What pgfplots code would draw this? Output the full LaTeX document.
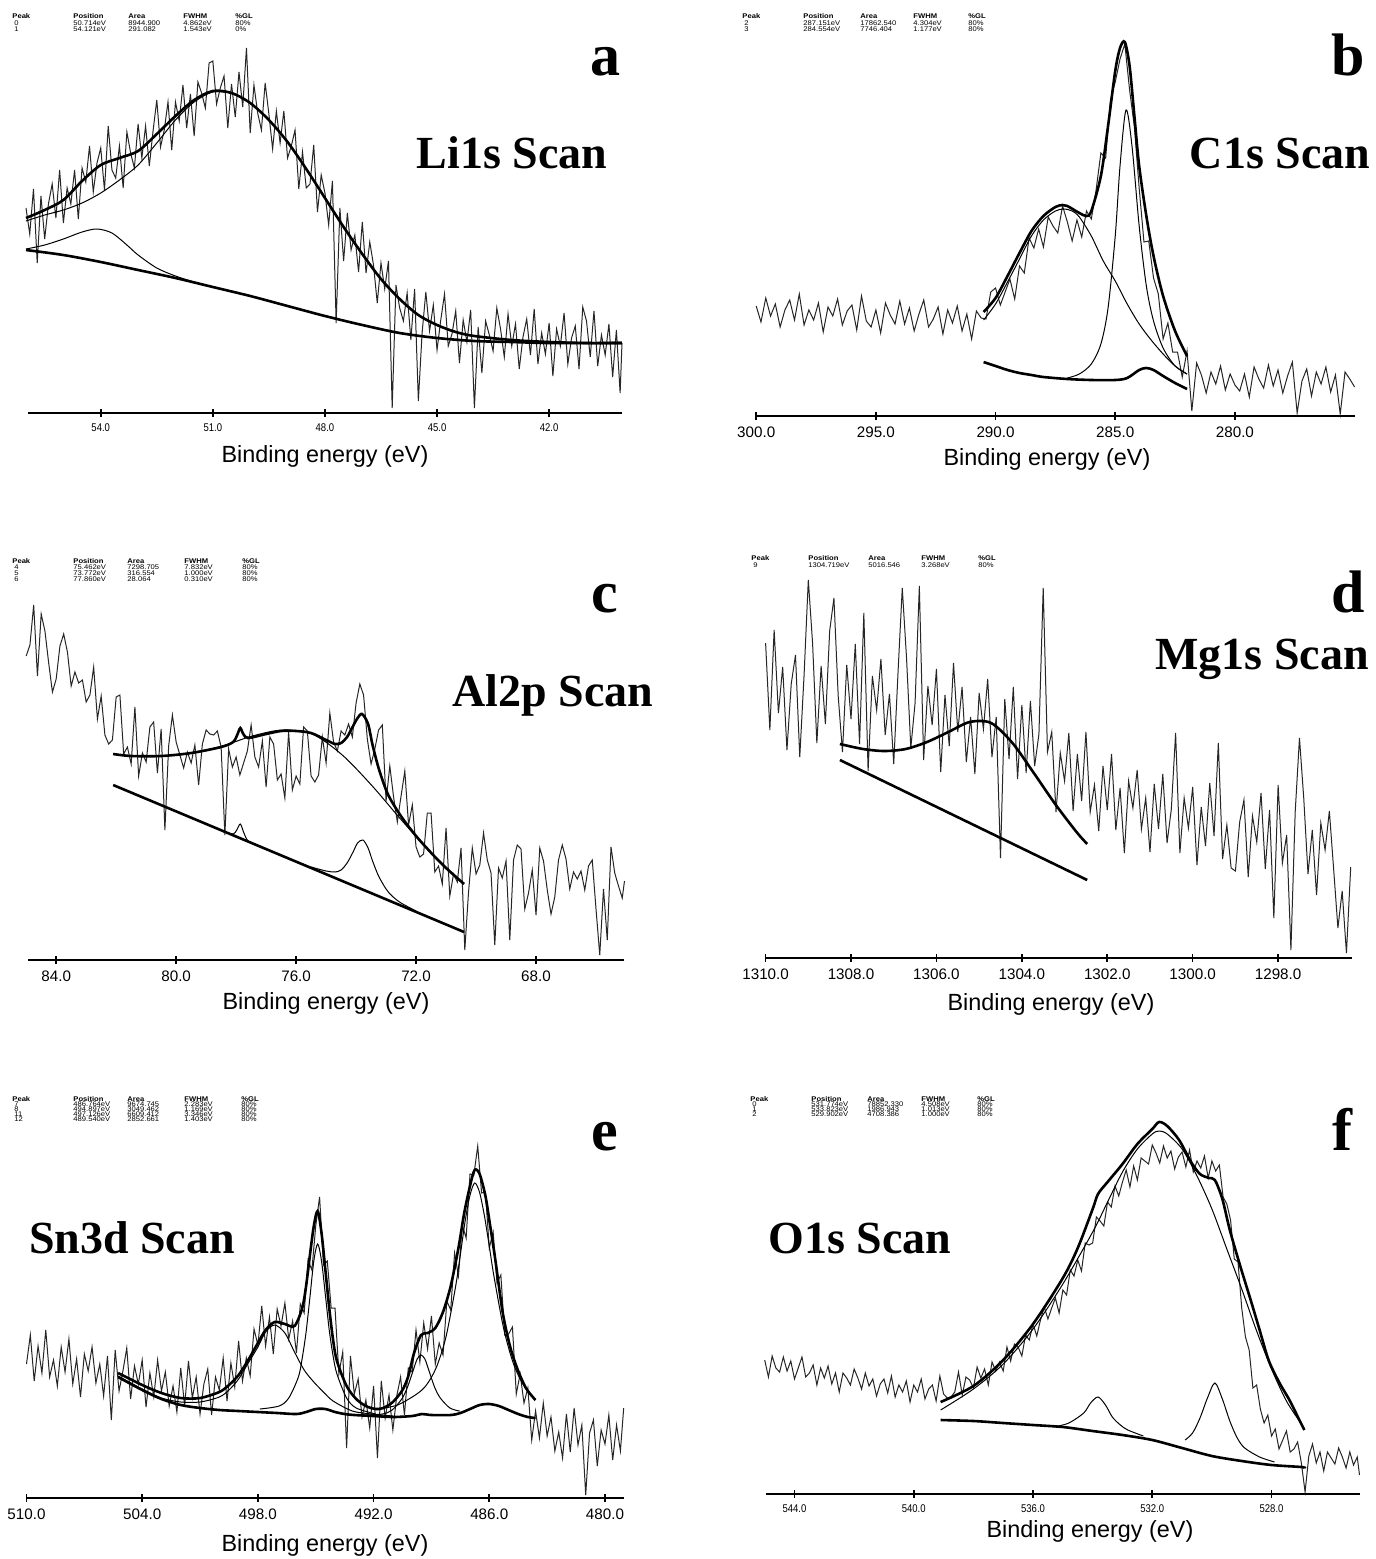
\documentclass[border=0pt]{standalone}
\usepackage{fontspec}
\setmainfont{Liberation Serif}
\newfontfamily\arial{Liberation Sans}
\usepackage{pgfplots}
\pgfplotsset{compat=1.18}
\pgfplotsset{
  xps/.style={
    scale only axis, clip=false, anchor=south west,
    axis x line*=bottom, axis y line=none,
    ymin=0, ymax=400, height=200pt, x dir=reverse,
    ytick=\empty,
    axis line style={line width=0.8pt, black},
    xtick style={line width=0.8pt, black},
    major tick length=4pt, tick align=center,
    xticklabel style={font=\arial\fontsize{7.6}{8}\selectfont, black},
  },
  smallticks/.style={xticklabel style={font=\arial\fontsize{5.6}{6}\selectfont, xscale=0.85}},
  data/.style={line width=0.5pt, black!85},
  fitthick/.style={line width=1.3pt, black, smooth},
  fitthin/.style={line width=0.5pt, black, smooth},
}
\tikzset{
  hd/.style={font=\arial\bfseries\fontsize{3.4}{4}\selectfont, anchor=base west, inner sep=0pt, xscale=1.12},
  hv/.style={font=\arial\fontsize{3.4}{4}\selectfont, anchor=base west, inner sep=0pt, xscale=1.12},
  big/.style={font=\bfseries\fontsize{30}{30}\selectfont, anchor=base, inner sep=0pt},
  scan/.style={font=\bfseries\fontsize{23}{23}\selectfont, anchor=base, inner sep=0pt},
  blab/.style={font=\arial\fontsize{11.7}{13}\selectfont, anchor=center, inner sep=0pt},
}
\newcommand{\phead}[1]{%
  \node[hd] at (\cA,#1) {Peak};
  \node[hd] at (\cB,#1) {Position};
  \node[hd] at (\cC,#1) {Area};
  \node[hd] at (\cD,#1) {FWHM};
  \node[hd] at (\cE,#1) {\%GL};}
\newcommand{\prow}[6]{%
  \node[hv] at (\cA+2,#1) {#2};
  \node[hv] at (\cB,#1) {#3};
  \node[hv] at (\cC,#1) {#4};
  \node[hv] at (\cD,#1) {#5};
  \node[hv] at (\cE,#1) {#6};}
\begin{document}
\begin{tikzpicture}
\useasboundingbox (0,0) rectangle (688pt,-779.5pt);
\fill[white] (0,0) rectangle (688pt,-779.5pt);

% ---------------- a : Li1s ----------------
\begin{axis}[xps, smallticks, at={(13.85pt,-206.5pt)}, width=297.15pt,
  xmin=40.05, xmax=55.955, xtick={54,51,48,45,42}, xticklabels={54.0,51.0,48.0,45.0,42.0}]
\addplot[data] coordinates {
(56.0,205)(55.9,179)(55.8,224)(55.7,150)(55.6,217)(55.5,174)(55.4,209)(55.3,229)(55.2,195)(55.1,243)
(55.0,190)(54.9,225)(54.8,209)(54.7,243)(54.6,194)(54.5,245)(54.4,231)(54.3,267)(54.2,221)(54.1,250)
(54.0,265)(53.9,223)(53.8,287)(53.7,243)(53.6,235)(53.5,267)(53.4,225)(53.3,281)(53.2,260)(53.1,245)
(53.0,289)(52.9,255)(52.8,287)(52.7,247)(52.6,282)(52.5,313)(52.4,266)(52.3,283)(52.2,311)(52.1,263)
(52.0,311)(51.9,292)(51.8,328)(51.7,285)(51.6,319)(51.5,277)(51.4,331)(51.3,320)(51.2,305)(51.1,350)
(51.0,352)(50.9,309)(50.8,325)(50.7,337)(50.6,285)(50.5,329)(50.4,296)(50.3,341)(50.2,306)(50.1,365)
(50.0,280)(49.9,328)(49.8,300)(49.7,283)(49.6,330)(49.5,299)(49.4,264)(49.3,302)(49.2,270)(49.1,302)
(49.0,255)(48.9,267)(48.8,283)(48.7,224)(48.6,261)(48.5,225)(48.4,229)(48.3,268)(48.2,201)(48.1,238)
(48.0,220)(47.9,188)(47.8,232)(47.7,90)(47.6,205)(47.5,152)(47.4,200)(47.3,163)(47.2,178)(47.1,141)
(47.0,191)(46.9,140)(46.8,171)(46.7,148)(46.6,110)(46.5,150)(46.4,124)(46.3,152)(46.2,5)(46.1,128)
(46.0,105)(45.9,92)(45.8,120)(45.7,73)(45.6,124)(45.5,12)(45.4,80)(45.3,121)(45.2,82)(45.1,108)
(45.0,63)(44.9,93)(44.8,119)(44.7,67)(44.6,79)(44.5,102)(44.4,50)(44.3,93)(44.2,71)(44.1,103)
(44.0,5)(43.9,86)(43.8,40)(43.7,92)(43.6,78)(43.5,62)(43.4,105)(43.3,84)(43.2,56)(43.1,99)
(43.0,67)(42.9,89)(42.8,44)(42.7,76)(42.6,94)(42.5,58)(42.4,104)(42.3,49)(42.2,80)(42.1,59)
(42.0,90)(41.9,37)(41.8,84)(41.7,67)(41.6,100)(41.5,49)(41.4,75)(41.3,87)(41.2,44)(41.1,106)
(41.0,92)(40.9,56)(40.8,102)(40.7,47)(40.6,78)(40.5,58)(40.4,89)(40.3,36)(40.2,83)(40.1,20)(40.05,70)};
\addplot[fitthin] coordinates {(56,192)(55.5,198)(55,203)(54.5,210)(54,220)(53.5,233)(53,248)(52.5,270)(52,293)(51.5,311)(51,321)(50.5,320)};
\addplot[fitthin] coordinates {(56,164)(55.5,168)(55,174)(54.5,181)(54.1,184)(53.7,180)(53.3,168)(53,158)(52.5,145)(52,137)(51.5,131)(51,126)};
\addplot[fitthick] coordinates {(56,195)(55.5,203)(55,213)(54.5,232)(54,248)(53.5,255)(53,262)(52.5,279)(52,297)(51.5,313)(51,322)(50.5,320)(50,310)(49.5,293)(49,271)(48.5,244)(48,215)(47.5,186)(47,159)(46.5,134)(46,114)(45.5,98)(45,88)(44.5,81)(44,77)(43,73)(42,71)(41,70)(40.05,70)};
\addplot[fitthick] coordinates {(56,163)(55,158)(54,151)(53,143)(52,135)(51,126)(50,117)(49,107)(48,97)(47,88)(46,80)(45,75)(44,72)(43,71)(42,70)(40.05,70)};
\end{axis}

% ---------------- b : C1s ----------------
\begin{axis}[xps, at={(378.1pt,-208pt)}, width=299.2pt,
  xmin=275, xmax=300, xtick={300,295,290,285,280}, xticklabels={300.0,295.0,290.0,285.0,280.0}]
\addplot[data] coordinates {
(300.0,110)(299.8,94)(299.6,118)(299.4,100)(299.2,112)(299.0,89)(298.8,106)(298.6,116)(298.4,96)(298.2,122)
(298.0,91)(297.8,106)(297.6,96)(297.4,113)(297.2,84)(297.0,109)(296.8,100)(296.6,117)(296.4,91)(296.2,105)
(296.0,111)(295.8,86)(295.6,120)(295.4,95)(295.2,89)(295.0,106)(294.8,83)(294.6,113)(294.4,101)(294.2,92)
(294.0,115)(293.8,92)(293.6,108)(293.4,85)(293.2,102)(293.0,116)(292.8,89)(292.6,97)(292.4,109)(292.2,82)
(292.0,106)(291.8,93)(291.6,110)(291.4,85)(291.2,102)(291.0,77)(290.8,105)(290.6,98)(290.4,97)(290.2,124)
(290.0,128)(289.8,111)(289.6,124)(289.4,137)(289.2,117)(289.0,150)(288.8,143)(288.6,178)(288.4,168)(288.2,187)
(288.0,169)(287.8,199)(287.6,190)(287.4,183)(287.2,210)(287.0,194)(286.8,175)(286.6,196)(286.4,179)(286.2,205)
(286.0,197)(285.8,226)(285.6,263)(285.4,258)(285.2,316)(285.0,334)(284.8,357)(284.6,372)(284.4,326)(284.2,289)
(284.0,228)(283.8,174)(283.6,175)(283.4,138)(283.2,122)(283.0,77)(282.8,93)(282.6,64)(282.4,64)(282.2,39)
(282.0,65)(281.8,5)(281.6,53)(281.4,41)(281.2,23)(281.0,44)(280.8,32)(280.6,50)(280.4,26)(280.2,42)
(280.0,31)(279.8,25)(279.6,42)(279.4,19)(279.2,49)(279.0,37)(278.8,28)(278.6,51)(278.4,30)(278.2,46)
(278.0,23)(277.8,40)(277.6,54)(277.4,3)(277.2,35)(277.0,47)(276.8,20)(276.6,44)(276.4,32)(276.2,49)
(276.0,24)(275.8,41)(275.6,2)(275.4,44)(275.2,37)(275.0,29)};
\addplot[fitthin] coordinates {(290.5,96)(290,112)(289.5,134)(289,157)(288.5,180)(288,196)(287.5,205)(287.15,207)(286.8,205)(286.5,199)(286,180)(285.5,155)(285,135)(284.5,112)(284,92)(283.5,76)(283,62)(282.5,50)(282,42)};
\addplot[fitthin] coordinates {(287,38)(286.5,42)(286,52)(285.6,72)(285.3,108)(285,180)(284.8,250)(284.55,306)(284.3,270)(284,190)(283.7,130)(283.4,95)(283,68)(282.5,50)(282,42)};
\addplot[fitthick] coordinates {(290.5,104)(290,118)(289.5,140)(289,163)(288.5,185)(288,200)(287.5,209)(287.2,211)(287,210)(286.5,203)(286.2,200)(286,205)(285.6,240)(285.3,290)(285,345)(284.8,368)(284.6,374)(284.4,350)(284.2,300)(284,250)(283.7,200)(283.4,160)(283,120)(282.5,85)(282,60)};
\addplot[fitthick] coordinates {(290.5,54)(290,50)(289.5,46)(289,43)(288.5,41)(288,39)(287,37)(286,36)(285,36)(284.5,38)(284,46)(283.7,48)(283.4,46)(283,40)(282.5,33)(282,27)};
\end{axis}

% ---------------- c : Al2p ----------------
\begin{axis}[xps, at={(13.85pt,-480pt)}, width=298.4pt,
  xmin=65.05, xmax=84.95, xtick={84,80,76,72,68}, xticklabels={84.0,80.0,76.0,72.0,68.0}]
\addplot[data] coordinates {
(85.0,304)(84.875,315)(84.75,355)(84.625,284)(84.5,346)(84.375,329)(84.25,297)(84.125,268)(84.0,281)(83.875,314)
(83.75,326)(83.625,308)(83.5,274)(83.375,288)(83.25,277)(83.125,280)(83.0,258)(82.875,265)(82.75,293)(82.625,241)
(82.5,264)(82.375,225)(82.25,216)(82.125,220)(82.0,263)(81.875,265)(81.75,206)(81.625,213)(81.5,196)(81.375,253)
(81.25,184)(81.125,207)(81.0,198)(80.875,233)(80.75,238)(80.625,187)(80.5,231)(80.375,130)(80.25,214)(80.125,245)
(80.0,218)(79.875,205)(79.75,192)(79.625,208)(79.5,197)(79.375,215)(79.25,175)(79.125,216)(79.0,230)(78.875,226)
(78.75,225)(78.625,229)(78.5,213)(78.375,125)(78.25,211)(78.125,193)(78.0,203)(77.875,185)(77.75,197)(77.625,209)
(77.5,235)(77.375,203)(77.25,193)(77.125,219)(77.0,173)(76.875,223)(76.75,216)(76.625,180)(76.5,186)(76.375,162)
(76.25,228)(76.125,170)(76.0,184)(75.875,176)(75.75,233)(75.625,229)(75.5,184)(75.375,178)(75.25,185)(75.125,223)
(75.0,197)(74.875,247)(74.75,218)(74.625,209)(74.5,229)(74.375,225)(74.25,236)(74.125,223)(74.0,257)(73.875,276)
(73.75,265)(73.625,221)(73.5,196)(73.375,211)(73.25,230)(73.125,235)(73.0,159)(72.875,194)(72.75,163)(72.625,138)
(72.5,164)(72.375,189)(72.25,135)(72.125,155)(72.0,113)(71.875,103)(71.75,106)(71.625,147)(71.5,147)(71.375,88)
(71.25,94)(71.125,76)(71.0,132)(70.875,64)(70.75,86)(70.625,78)(70.5,112)(70.375,10)(70.25,68)(70.125,112)
(70.0,86)(69.875,95)(69.75,127)(69.625,100)(69.5,87)(69.375,15)(69.25,92)(69.125,82)(69.0,99)(68.875,20)
(68.75,100)(68.625,115)(68.5,111)(68.375,51)(68.25,67)(68.125,90)(68.0,45)(67.875,112)(67.75,99)(67.625,70)
(67.5,46)(67.375,63)(67.25,100)(67.125,115)(67.0,101)(66.875,71)(66.75,88)(66.625,81)(66.5,89)(66.375,70)
(66.25,94)(66.125,100)(66.0,51)(65.875,5)(65.75,71)(65.625,20)(65.5,113)(65.375,87)(65.25,74)(65.125,62)(65.05,79)};
\addplot[fitthin] coordinates {(82.1,206)(81.46,204)(80.46,204)(79.46,207)(78.46,214)(77.46,224)(76.46,230)(75.46,226)(74.46,205)(73.46,174)(72.46,139)(71.46,106)(70.4,76)};
\addplot[fitthin] coordinates {(75.5,93)(75,89)(74.7,88)(74.5,90)(74.3,97)(74.1,108)(73.95,117)(73.77,120)(73.6,112)(73.45,99)(73.25,84)(73,71)(72.8,64)(72.5,57)(72,49)};
\addplot[fitthin] coordinates {(78.4,128)(78.1,126)(77.98,130)(77.86,136)(77.74,127)(77.6,119)(77.3,115)};
\addplot[fitthick] coordinates {(82.1,206)(81.5,204)(80.5,204)(79.5,207)(78.5,213)(78.1,218)(77.95,226)(77.86,232)(77.76,226)(77.6,222)(77,226)(76.5,229)(76,229)(75.5,227)(75,220)(74.7,216)(74.5,217)(74.3,223)(74.1,234)(73.95,242)(73.8,246)(73.6,236)(73.45,215)(73.25,192)(73,170)(72.8,158)(72.46,142)(72,124)(71.46,106)(71,92)(70.4,76)};
\addplot[line width=1.3pt, black] coordinates {(82.1,175)(70.4,28)};
\end{axis}

% ---------------- d : Mg1s ----------------
\begin{axis}[xps, at={(382.8pt,-479pt)}, width=293.2pt,
  xmin=1296.27, xmax=1310, xtick={1310,1308,1306,1304,1302,1300,1298},
  xticklabels={1310.0,1308.0,1306.0,1304.0,1302.0,1300.0,1298.0}]
\addplot[data] coordinates {
(1310.0,315)(1309.9,228)(1309.8,328)(1309.7,245)(1309.6,291)(1309.5,208)(1309.4,274)(1309.3,303)(1309.2,201)(1309.1,282)
(1309.0,378)(1308.9,315)(1308.8,215)(1308.7,292)(1308.6,234)(1308.5,327)(1308.4,360)(1308.3,262)(1308.2,206)(1308.1,293)
(1308.0,239)(1307.9,314)(1307.8,214)(1307.7,345)(1307.6,187)(1307.5,282)(1307.4,248)(1307.3,299)(1307.2,223)(1307.1,264)
(1307.0,194)(1306.9,285)(1306.8,370)(1306.7,300)(1306.6,210)(1306.5,255)(1306.4,372)(1306.3,198)(1306.2,272)(1306.1,233)
(1306.0,289)(1305.9,186)(1305.8,263)(1305.7,212)(1305.6,295)(1305.5,226)(1305.4,271)(1305.3,196)(1305.2,241)(1305.1,184)
(1305.0,265)(1304.9,229)(1304.8,279)(1304.7,201)(1304.6,241)(1304.5,100)(1304.4,259)(1304.3,199)(1304.2,271)(1304.1,179)
(1304.0,253)(1303.9,185)(1303.8,257)(1303.7,192)(1303.6,224)(1303.5,370)(1303.4,206)(1303.3,226)(1303.2,146)(1303.1,205)
(1303.0,177)(1302.9,225)(1302.8,147)(1302.7,204)(1302.6,157)(1302.5,226)(1302.4,146)(1302.3,173)(1302.2,127)(1302.1,192)
(1302.0,148)(1301.9,204)(1301.8,128)(1301.7,170)(1301.6,105)(1301.5,177)(1301.4,150)(1301.3,188)(1301.2,129)(1301.1,160)
(1301.0,106)(1300.9,174)(1300.8,129)(1300.7,184)(1300.6,115)(1300.5,149)(1300.4,225)(1300.3,105)(1300.2,160)(1300.1,130)
(1300.0,171)(1299.9,93)(1299.8,151)(1299.7,112)(1299.6,175)(1299.5,122)(1299.4,215)(1299.3,99)(1299.2,133)(1299.1,90)
(1299.0,87)(1298.9,136)(1298.8,158)(1298.7,81)(1298.6,142)(1298.5,116)(1298.4,165)(1298.3,89)(1298.2,148)(1298.1,40)
(1298.0,173)(1297.9,95)(1297.8,123)(1297.7,8)(1297.6,146)(1297.5,220)(1297.4,160)(1297.3,84)(1297.2,128)(1297.1,63)
(1297.0,135)(1296.9,108)(1296.8,147)(1296.7,89)(1296.6,30)(1296.5,67)(1296.4,5)(1296.3,91)};
\addplot[fitthick] coordinates {(1308.26,214)(1307.72,209)(1307.22,207)(1306.72,209)(1306.22,216)(1305.72,226)(1305.22,236)(1304.72,235)(1304.22,215)(1303.72,185)(1303.22,154)(1302.72,126)(1302.47,114)};
\addplot[line width=1.3pt, black] coordinates {(1308.26,198)(1302.47,78)};
\end{axis}

% ---------------- e : Sn3d ----------------
\begin{axis}[xps, at={(13.25pt,-749pt)}, width=298.6pt,
  xmin=479.03, xmax=510, xtick={510,504,498,492,486,480},
  xticklabels={510.0,504.0,498.0,492.0,486.0,480.0}]
\addplot[data] coordinates {
(510.0,134)(509.8,163)(509.6,117)(509.4,152)(509.2,125)(509.0,168)(508.8,121)(508.6,138)(508.4,112)(508.2,151)
(508.0,126)(507.8,159)(507.6,114)(507.4,139)(507.2,101)(507.0,144)(506.8,127)(506.6,151)(506.4,115)(506.2,134)
(506.0,102)(505.8,142)(505.6,78)(505.4,148)(505.2,107)(505.0,127)(504.8,150)(504.6,99)(504.4,132)(504.2,114)
(504.0,138)(503.8,91)(503.6,125)(503.4,101)(503.2,138)(503.0,107)(502.8,126)(502.6,92)(502.4,112)(502.2,86)
(502.0,130)(501.8,92)(501.6,137)(501.4,100)(501.2,121)(501.0,84)(500.8,114)(500.6,129)(500.4,83)(500.2,121)
(500.0,108)(499.8,140)(499.6,97)(499.4,135)(499.2,111)(499.0,157)(498.8,117)(498.6,140)(498.4,122)(498.2,169)
(498.0,153)(497.8,192)(497.6,152)(497.4,181)(497.2,144)(497.0,189)(496.8,172)(496.6,195)(496.4,159)(496.2,177)
(496.0,145)(495.8,194)(495.6,185)(495.4,238)(495.2,228)(495.0,272)(494.8,301)(494.6,233)(494.4,237)(494.2,190)
(494.0,190)(493.8,124)(493.6,146)(493.4,50)(493.2,142)(493.0,104)(492.8,119)(492.6,81)(492.4,98)(492.2,70)
(492.0,112)(491.8,40)(491.6,117)(491.4,80)(491.2,103)(491.0,68)(490.8,102)(490.6,121)(490.4,83)(490.2,130)
(490.0,126)(489.8,168)(489.6,136)(489.4,175)(489.2,149)(489.0,182)(488.8,134)(488.6,155)(488.4,143)(488.2,197)
(488.0,188)(487.8,245)(487.6,222)(487.4,273)(487.2,260)(487.0,324)(486.8,323)(486.6,352)(486.4,305)(486.2,306)
(486.0,250)(485.8,266)(485.6,215)(485.4,223)(485.2,163)(485.0,164)(484.8,171)(484.6,104)(484.4,124)(484.2,95)
(484.0,110)(483.8,58)(483.6,87)(483.4,60)(483.2,95)(483.0,62)(482.8,81)(482.6,47)(482.4,66)(482.2,40)
(482.0,84)(481.8,46)(481.6,90)(481.4,53)(481.2,73)(481.0,3)(480.8,65)(480.6,78)(480.4,32)(480.2,68)
(480.0,54)(479.8,83)(479.6,38)(479.4,73)(479.2,47)(479.03,90)};
\addplot[fitthin] coordinates {(505.25,122)(504,109)(503,100)(502,96)(501,96)(500,101)(499.5,108)(499,119)(498.5,135)(498,151)(497.6,166)(497.13,173)(496.6,165)(496.1,146)(495.6,128)(495.1,116)(494.6,106)(494.1,97)(493.1,87)(492.1,84)(491,82)};
\addplot[fitthin] coordinates {(497.9,89)(496.9,92)(496.4,100)(495.9,121)(495.7,140)(495.5,166)(495.3,201)(495.1,237)(494.9,254)(494.7,237)(494.5,203)(494.3,168)(494.1,142)(493.9,124)(493.4,100)(492.9,90)(491.9,84)};
\addplot[fitthin] coordinates {(492.54,83)(491.54,84)(491.04,88)(490.54,99)(490.24,111)(489.94,128)(489.74,139)(489.54,143)(489.34,139)(489.14,128)(488.84,111)(488.54,100)(488.04,90)(487.54,87)};
\addplot[fitthin] coordinates {(491.76,89)(490.76,93)(489.76,104)(489.26,113)(488.76,130)(488.26,160)(487.76,210)(487.51,242)(487.26,276)(487.01,302)(486.76,315)(486.51,306)(486.26,283)(486.01,253)(485.76,222)(485.26,170)(484.76,135)(484.26,114)(483.76,101)(483.6,99)};
\addplot[fitthick] coordinates {(505.25,125)(504,113)(503,105)(502,100)(501,100)(500,106)(499.5,113)(499,123)(498.5,138)(498,155)(497.6,168)(497.13,176)(496.6,174)(496.1,172)(495.7,190)(495.5,212)(495.3,243)(495.1,272)(494.9,287)(494.7,265)(494.5,228)(494.3,190)(494.1,158)(493.9,137)(493.4,112)(492.9,99)(492.4,92)(491.9,89)(491.5,90)(491,96)(490.5,108)(490.2,122)(489.9,145)(489.54,163)(489.2,165)(488.8,170)(488.4,186)(488,212)(487.6,250)(487.3,285)(487,312)(486.76,328)(486.5,324)(486.2,302)(486,278)(485.7,240)(485.3,185)(484.9,150)(484.5,127)(484.1,110)(483.7,100)(483.6,98)};
\addplot[fitthick] coordinates {(505.25,121)(504,108)(503,99)(502,93)(501,90)(500,88)(499,87)(498,86)(497,85)(496,84)(495.5,86)(495,89)(494.5,89)(494,86)(493.5,84)(493,83)(492,82)(491,81)(490,82)(489.5,84)(489,83)(488,83)(487.5,85)(487,89)(486.5,93)(486,94)(485.5,92)(485,88)(484.5,84)(484,81)(483.6,80)};
\end{axis}

% ---------------- f : O1s ----------------
\begin{axis}[xps, smallticks, at={(382.8pt,-747pt)}, width=296.95pt,
  xmin=525.05, xmax=544.97, xtick={544,540,536,532,528},
  xticklabels={544.0,540.0,536.0,532.0,528.0}]
\addplot[data] coordinates {
(545.0,134)(544.875,117)(544.75,138)(544.625,126)(544.5,122)(544.375,137)(544.25,123)(544.125,133)(544.0,115)(543.875,126)
(543.75,137)(543.625,117)(543.5,121)(543.375,129)(543.25,109)(543.125,126)(543.0,116)(542.875,128)(542.75,110)(542.625,121)
(542.5,102)(542.375,121)(542.25,116)(542.125,109)(542.0,125)(541.875,116)(541.75,105)(541.625,121)(541.5,108)(541.375,115)
(541.25,98)(541.125,110)(541.0,115)(540.875,101)(540.75,118)(540.625,97)(540.5,109)(540.375,102)(540.25,113)(540.125,92)
(540.0,109)(539.875,102)(539.75,115)(539.625,95)(539.5,105)(539.375,109)(539.25,93)(539.125,118)(539.0,100)(538.875,96)
(538.75,97)(538.625,102)(538.5,122)(538.375,99)(538.25,117)(538.125,114)(538.0,106)(537.875,127)(537.75,116)(537.625,125)
(537.5,109)(537.375,132)(537.25,123)(537.125,132)(537.0,123)(536.875,147)(536.75,133)(536.625,150)(536.5,147)(536.375,138)
(536.25,159)(536.125,154)(536.0,170)(535.875,158)(535.75,174)(535.625,187)(535.5,175)(535.375,186)(535.25,196)(535.125,181)
(535.0,204)(534.875,199)(534.75,224)(534.625,218)(534.5,234)(534.375,223)(534.25,251)(534.125,249)(534.0,251)(533.875,277)
(533.75,273)(533.625,268)(533.5,292)(533.375,287)(533.25,308)(533.125,298)(533.0,312)(532.875,324)(532.75,307)(532.625,328)
(532.5,314)(532.375,336)(532.25,333)(532.125,330)(532.0,349)(531.875,341)(531.75,331)(531.625,348)(531.5,336)(531.375,343)
(531.25,325)(531.125,337)(531.0,342)(530.875,327)(530.75,344)(530.625,322)(530.5,333)(530.375,326)(530.25,338)(530.125,316)
(530.0,333)(529.875,323)(529.75,329)(529.625,297)(529.5,290)(529.375,274)(529.25,235)(529.125,232)(529.0,186)(528.875,157)
(528.75,144)(528.625,106)(528.5,109)(528.375,85)(528.25,71)(528.125,79)(528.0,58)(527.875,65)(527.75,45)(527.625,54)
(527.5,63)(527.375,42)(527.25,45)(527.125,52)(527.0,31)(526.875,2)(526.75,38)(526.625,50)(526.5,31)(526.375,42)
(526.25,23)(526.125,42)(526.0,36)(525.875,30)(525.75,46)(525.625,37)(525.5,26)(525.375,42)(525.25,29)(525.125,37)(525.05,19)};
\addplot[fitthin] coordinates {(539.1,84)(538,105)(537,130)(536,165)(535,210)(534,262)(533.5,292)(533,322)(532.5,345)(532,360)(531.77,363)(531.5,360)(531,345)(530.5,318)(530,285)(529.5,245)(529,205)(528.5,163)(528,125)(527.5,93)(527,70)(526.9,65)};
\addplot[fitthin] coordinates {(535.3,67)(534.8,71)(534.3,81)(534.07,91)(533.82,97)(533.57,89)(533.34,77)(533.07,69)(532.82,64)(532.3,58)};
\addplot[fitthin] coordinates {(530.9,54)(530.65,61)(530.4,76)(530.15,96)(529.9,111)(529.65,95)(529.4,73)(529.15,56)(528.9,46)(528.4,37)(527.9,32)};
\addplot[fitthick] coordinates {(539.1,92)(538,108)(537,134)(536,170)(535,216)(534.5,246)(534,285)(533.82,300)(533.5,312)(533,330)(532.5,350)(532,365)(531.77,372)(531.5,368)(531.1,354)(530.7,332)(530.4,320)(530.1,316)(529.9,314)(529.65,295)(529.4,264)(529.05,228)(528.7,194)(528.4,164)(528.1,134)(527.75,112)(527.4,94)(527.1,76)(526.9,64)};
\addplot[fitthick] coordinates {(539.1,74)(538,73)(537,71)(536,69)(535,67)(534,63)(533,59)(532,54)(531,46)(530,38)(529,33)(528,29)(527,27)(526.9,26)};
\end{axis}

% ---------------- texts ----------------
\begin{scope}[x=0.5pt,y=-0.5pt]
\node[big] at (605,75) {a};
\node[big] at (1348,75) {b};
\node[big] at (605,612) {c};
\node[big] at (1348,612) {d};
\node[big] at (605,1150) {e};
\node[big] at (1342,1150) {f};
\node[scan] at (512,168) {Li1s Scan};
\node[scan] at (1280,168) {C1s Scan};
\node[scan] at (553,706) {Al2p Scan};
\node[scan] at (1262,669) {Mg1s Scan};
\node[scan] at (132,1253) {Sn3d Scan};
\node[scan] at (860,1253) {O1s Scan};
\node[blab] at (325,456) {Binding energy (eV)};
\node[blab] at (1047,459) {Binding energy (eV)};
\node[blab] at (326,1003) {Binding energy (eV)};
\node[blab] at (1051,1004) {Binding energy (eV)};
\node[blab] at (325,1545) {Binding energy (eV)};
\node[blab] at (1090,1531) {Binding energy (eV)};
% tables
\def\cA{12}\def\cB{73}\def\cC{128}\def\cD{183}\def\cE{235}
\phead{18.5}
\prow{25}{0}{50.714eV}{8944.900}{4.862eV}{80\%}
\prow{31}{1}{54.121eV}{291.082}{1.543eV}{0\%}
\def\cA{742}\def\cB{803}\def\cC{860}\def\cD{913}\def\cE{968}
\phead{18.5}
\prow{25}{2}{287.151eV}{17862.540}{4.304eV}{80\%}
\prow{31}{3}{284.554eV}{7746.404}{1.177eV}{80\%}
\def\cA{12}\def\cB{73}\def\cC{127}\def\cD{184}\def\cE{242}
\phead{563.5}
\prow{569.5}{4}{75.462eV}{7298.705}{7.832eV}{80\%}
\prow{575.5}{5}{73.772eV}{316.554}{1.000eV}{80\%}
\prow{581.5}{6}{77.860eV}{28.064}{0.310eV}{80\%}
\def\cA{751}\def\cB{808}\def\cC{868}\def\cD{921}\def\cE{978}
\phead{560.5}
\prow{567}{9}{1304.719eV}{5016.546}{3.268eV}{80\%}
\def\cA{12}\def\cB{73}\def\cC{127}\def\cD{184}\def\cE{241}
\phead{1101.5}
\prow{1106.5}{7}{486.764eV}{9674.745}{2.283eV}{80\%}
\prow{1111.5}{8}{494.897eV}{3049.462}{1.169eV}{80\%}
\prow{1116.5}{11}{497.126eV}{6609.412}{3.346eV}{80\%}
\prow{1121.5}{12}{489.540eV}{2852.661}{1.403eV}{80\%}
\def\cA{750}\def\cB{811}\def\cC{867}\def\cD{921}\def\cE{977}
\phead{1101.5}
\prow{1106.5}{0}{531.774eV}{78852.330}{4.508eV}{80\%}
\prow{1111.5}{1}{533.823eV}{1986.943}{1.013eV}{80\%}
\prow{1116.5}{2}{529.902eV}{4708.386}{1.000eV}{80\%}
\end{scope}
\end{tikzpicture}
\end{document}
